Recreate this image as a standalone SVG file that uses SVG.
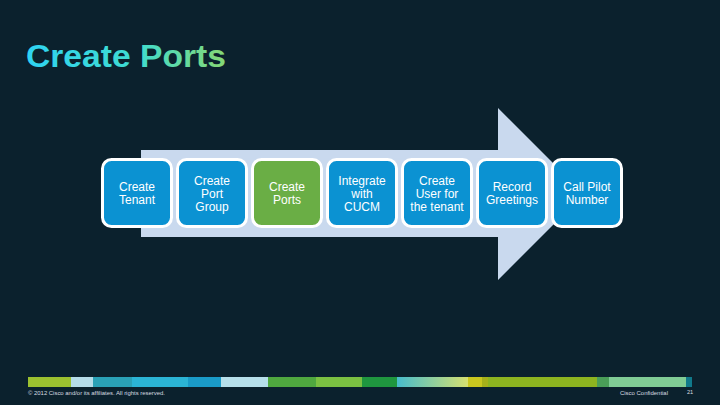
<svg xmlns="http://www.w3.org/2000/svg" width="720" height="405" viewBox="0 0 720 405">
  <defs>
    <linearGradient id="titleGrad" x1="26" y1="0" x2="226" y2="0" gradientUnits="userSpaceOnUse">
      <stop offset="0" stop-color="#2fd3f2"/>
      <stop offset="0.55" stop-color="#3fdcd0"/>
      <stop offset="1" stop-color="#86d873"/>
    </linearGradient>
    <linearGradient id="barGrad" x1="397" y1="0" x2="468" y2="0" gradientUnits="userSpaceOnUse">
      <stop offset="0" stop-color="#47bccc"/>
      <stop offset="1" stop-color="#d6e070"/>
    </linearGradient>
    <style>
      .box { stroke: #ffffff; stroke-width: 3; }
      .blue { fill: #0b92d2; }
      .green { fill: #6aae45; }
      .lbl { font-family: "Liberation Sans", Arial, sans-serif; font-size: 12px; fill: #ffffff; text-anchor: middle; }
      .foot { font-family: "Liberation Sans", Arial, sans-serif; font-size: 5.6px; fill: #d8dde0; }
    </style>
  </defs>
  <rect width="720" height="405" fill="#0b212d"/>
  <text x="26" y="67" font-family="'Liberation Sans', Arial, sans-serif" font-size="31" font-weight="bold" fill="url(#titleGrad)" textLength="200" lengthAdjust="spacingAndGlyphs">Create Ports</text>

  <g id="connectors">
    <polygon points="141,150 498,150 498,108 584,194 498,280 498,237 141,237" fill="#c9d9ee"/>
  </g>

  <g id="node-create-tenant">
    <rect class="box blue" x="102.5" y="159.5" width="69" height="67" rx="9"/>
    <text class="lbl" x="137" y="190.5">Create</text>
    <text class="lbl" x="137" y="203.5">Tenant</text>
  </g>
  <g id="node-create-port-group">
    <rect class="box blue" x="177.5" y="159.5" width="69" height="67" rx="9"/>
    <text class="lbl" x="212" y="184.5">Create</text>
    <text class="lbl" x="212" y="197.5">Port</text>
    <text class="lbl" x="212" y="210.5">Group</text>
  </g>
  <g id="node-create-ports">
    <rect class="box green" x="252.5" y="159.5" width="69" height="67" rx="9"/>
    <text class="lbl" x="287" y="190.5">Create</text>
    <text class="lbl" x="287" y="203.5">Ports</text>
  </g>
  <g id="node-integrate-cucm">
    <rect class="box blue" x="327.5" y="159.5" width="69" height="67" rx="9"/>
    <text class="lbl" x="362" y="184.5">Integrate</text>
    <text class="lbl" x="362" y="197.5">with</text>
    <text class="lbl" x="362" y="210.5">CUCM</text>
  </g>
  <g id="node-create-user">
    <rect class="box blue" x="402.5" y="159.5" width="69" height="67" rx="9"/>
    <text class="lbl" x="437" y="184.5">Create</text>
    <text class="lbl" x="437" y="197.5">User for</text>
    <text class="lbl" x="437" y="210.5">the tenant</text>
  </g>
  <g id="node-record-greetings">
    <rect class="box blue" x="477.5" y="159.5" width="69" height="67" rx="9"/>
    <text class="lbl" x="512" y="190.5">Record</text>
    <text class="lbl" x="512" y="203.5">Greetings</text>
  </g>
  <g id="node-call-pilot">
    <rect class="box blue" x="552.5" y="159.5" width="69" height="67" rx="9"/>
    <text class="lbl" x="587" y="190.5">Call Pilot</text>
    <text class="lbl" x="587" y="203.5">Number</text>
  </g>

  <g id="footer-bar">
    <rect x="28" y="377" width="43" height="10" fill="#9cc130"/>
    <rect x="71" y="377" width="22" height="10" fill="#b5dde9"/>
    <rect x="93" y="377" width="39" height="10" fill="#2aa1b6"/>
    <rect x="132" y="377" width="56" height="10" fill="#2bb4d5"/>
    <rect x="188" y="377" width="33" height="10" fill="#1a9bc8"/>
    <rect x="221" y="377" width="47" height="10" fill="#b6dfea"/>
    <rect x="268" y="377" width="48" height="10" fill="#4fa83f"/>
    <rect x="316" y="377" width="46" height="10" fill="#7bc142"/>
    <rect x="362" y="377" width="35" height="10" fill="#1f963f"/>
    <rect x="397" y="377" width="71" height="10" fill="url(#barGrad)"/>
    <rect x="468" y="377" width="14" height="10" fill="#c9c71f"/>
    <rect x="482" y="377" width="6" height="10" fill="#a6b11a"/>
    <rect x="488" y="377" width="109" height="10" fill="#8db420"/>
    <rect x="597" y="377" width="12" height="10" fill="#4a9e58"/>
    <rect x="609" y="377" width="77" height="10" fill="#80cc95"/>
    <rect x="686" y="377" width="6" height="10" fill="#10798a"/>
  </g>
  <text class="foot" x="28" y="395" textLength="137" lengthAdjust="spacingAndGlyphs">© 2012 Cisco and/or its affiliates. All rights reserved.</text>
  <text class="foot" x="620" y="395" textLength="48" lengthAdjust="spacingAndGlyphs">Cisco Confidential</text>
  <text class="foot" x="687" y="394">21</text>
</svg>
